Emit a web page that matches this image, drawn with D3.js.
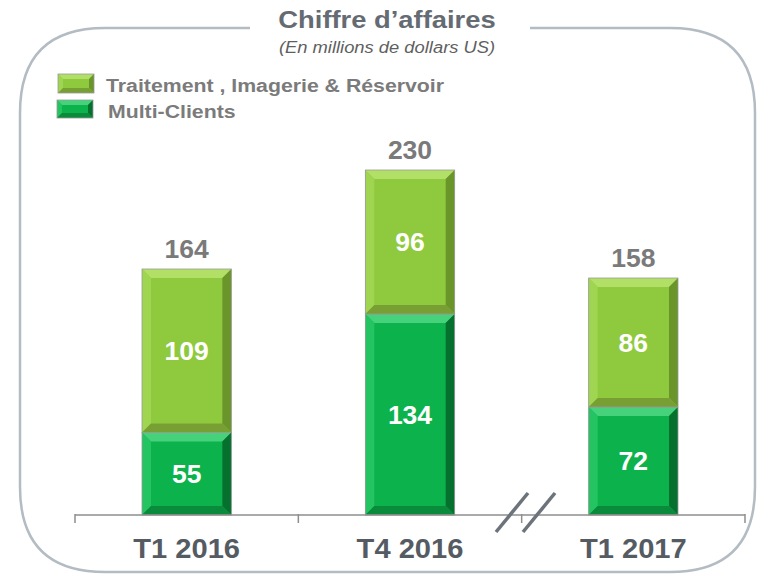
<!DOCTYPE html>
<html>
<head>
<meta charset="utf-8">
<script src="https://cdn.jsdelivr.net/npm/d3@7"></script>
<style>
  body { margin: 0; background: #fff; }
  svg { display: block; font-family: Arial, "Liberation Sans", sans-serif; }
</style>
</head>
<body>
<svg id="chart" width="761" height="574"></svg>
<script>
// data
var categories = ["T1 2016", "T4 2016", "T1 2017"];
var multiClients = [55, 134, 72];
var traitement = [109, 96, 86];
var totals = [164, 230, 158];
var seriesNames = ["Traitement , Imagerie & Réservoir", "Multi-Clients"];

var svg = d3.select("#chart");

// colours for the bevelled bars: [face, top, left, right, bottom]
var bevel = {
  light: ["#8fca3e", "#b2e067", "#a0d552", "#6a952a", "#789f33"],
  dark:  ["#0cb24b", "#45d27b", "#25c463", "#06712f", "#0a8a3b"]
};

var x = d3.scaleBand().domain(categories).range([75, 745]).paddingInner(0.6).paddingOuter(0.3);
var y = d3.scaleLinear().domain([0, 230]).range([515, 170]);

// text helper, the original text is a bit stretched horizontally
function label(g, tx, ty, str, size, sx, fill, anchor, italic, weight) {
  return g.append("text")
    .attr("transform", "translate(" + tx + "," + ty + ") scale(" + sx + ",1)")
    .attr("text-anchor", anchor || "middle")
    .style("font-size", size + "px")
    .style("font-weight", weight || "bold")
    .style("font-style", italic ? "italic" : "normal")
    .attr("fill", fill)
    .text(str);
}

// rounded frame with a gap for the title
var fl = 20, fr = 755, ft = 28, fb = 572, r = 85;
var framePath = "M250," + ft + " L" + (fl + r) + "," + ft +
  " Q" + fl + "," + ft + " " + fl + "," + (ft + r) +
  " L" + fl + "," + (fb - r) +
  " Q" + fl + "," + fb + " " + (fl + r) + "," + fb +
  " L" + (fr - r) + "," + fb +
  " Q" + fr + "," + fb + " " + fr + "," + (fb - r) +
  " L" + fr + "," + (ft + r) +
  " Q" + fr + "," + ft + " " + (fr - r) + "," + ft +
  " L530," + ft;
svg.append("path")
  .attr("d", framePath)
  .attr("fill", "none")
  .attr("stroke", "#b3bbc3")
  .attr("stroke-width", 2.5);

label(svg, 387, 28, "Chiffre d\u2019affaires", 24, 1.14, "#656b72");
label(svg, 387, 53, "(En millions de dollars US)", 17, 1.08, "#5f5f5f", "middle", true, "normal");

function bevelRect(g, x0, y0, w, h, c, b) {
  g.append("rect").attr("x", x0).attr("y", y0).attr("width", w).attr("height", h).attr("fill", c[0]);
  var x1 = x0 + w, y1 = y0 + h;
  var faces = [
    [[x0, y0], [x1, y0], [x1 - b, y0 + b], [x0 + b, y0 + b], c[1]],
    [[x0, y0], [x0 + b, y0 + b], [x0 + b, y1 - b], [x0, y1], c[2]],
    [[x1, y0], [x1, y1], [x1 - b, y1 - b], [x1 - b, y0 + b], c[3]],
    [[x0, y1], [x0 + b, y1 - b], [x1 - b, y1 - b], [x1, y1], c[4]]
  ];
  faces.forEach(function(f) {
    g.append("polygon")
      .attr("points", f.slice(0, 4).map(function(p) { return p.join(","); }).join(" "))
      .attr("fill", f[4]);
  });
  g.append("rect").attr("x", x0).attr("y", y0).attr("width", w).attr("height", h)
    .attr("fill", "none").attr("stroke", "#9a9a9a").attr("stroke-width", 0.8);
}

// legend
var legend = svg.append("g");
bevelRect(legend, 58, 74, 36, 19, bevel.light, 5);
bevelRect(legend, 57, 100, 36, 18, bevel.dark, 5);
label(legend, 106, 92, seriesNames[0], 19, 1.12, "#7b7b7b", "start");
label(legend, 108, 118, seriesNames[1], 19, 1.12, "#7b7b7b", "start");

// bars
var bars = svg.append("g");
categories.forEach(function(cat, i) {
  var bx = x(cat), bw = x.bandwidth(), cx = bx + bw / 2;
  bevelRect(bars, bx, y(multiClients[i]), bw, y(0) - y(multiClients[i]), bevel.dark, 9);
  bevelRect(bars, bx, y(totals[i]), bw, y(multiClients[i]) - y(totals[i]), bevel.light, 9);

  label(bars, cx, (y(0) + y(multiClients[i])) / 2 + 9, multiClients[i], 26, 1.02, "#fff");
  label(bars, cx, (y(multiClients[i]) + y(totals[i])) / 2 + 9, traitement[i], 26, 1.02, "#fff");
  label(bars, cx, y(totals[i]) - 11, totals[i], 26, 1.02, "#7a7a7a");
});

// x axis with ticks at band boundaries
var axis = svg.append("g").attr("stroke", "#8e8e8e");
axis.append("line").attr("x1", 75).attr("x2", 745).attr("y1", 515).attr("y2", 515).attr("stroke-width", 1.5);
var bounds = [75].concat(categories.map(function(c) { return x(c) + x.bandwidth() + x.step() * x.paddingInner() / 2; }));
bounds[bounds.length - 1] = 745;
bounds.forEach(function(b) {
  axis.append("line").attr("x1", b).attr("x2", b).attr("y1", 514).attr("y2", 523).attr("stroke-width", 1.5);
});

categories.forEach(function(cat) {
  label(svg, x(cat) + x.bandwidth() / 2, 558, cat, 28, 1.04, "#555b62");
});

// axis break marks
var brk = svg.append("g").attr("stroke", "#6c737a").attr("stroke-width", 3.5);
brk.append("line").attr("x1", 496).attr("y1", 532).attr("x2", 528).attr("y2", 493);
brk.append("line").attr("x1", 523).attr("y1", 532).attr("x2", 555).attr("y2", 493);
</script>
</body>
</html>
